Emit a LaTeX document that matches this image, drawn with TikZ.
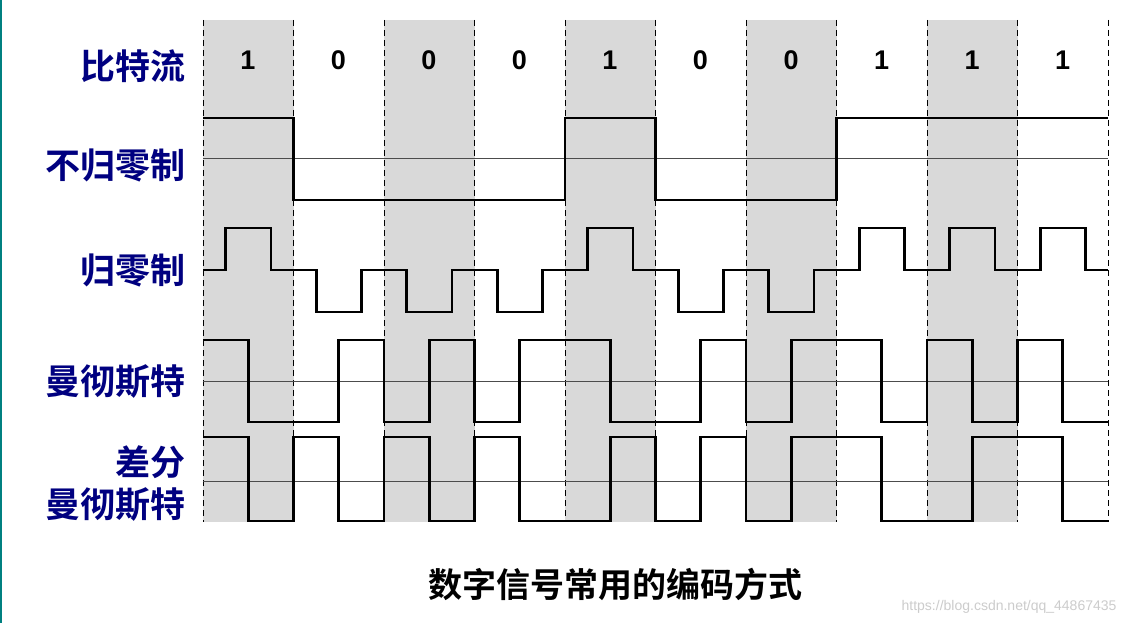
\documentclass[tikz,border=0pt]{standalone}
\usepackage{fontspec}
\setmainfont{Liberation Sans}
\newfontfamily\cjk{Noto Sans CJK SC Bold}
\begin{document}
\begin{tikzpicture}[x=1pt,y=-1pt,
  lbl/.style={anchor=east,font=\cjk\fontsize{35}{42}\selectfont,text=blue!50!black,align=right},
  bit/.style={font=\bfseries\fontsize{27}{30}\selectfont},
  wave/.style={line width=2.8pt,line join=miter},
  mid/.style={line width=0.7pt,gray!60!black},
  sep/.style={dash pattern=on 6pt off 4pt,line width=1pt}]
\useasboundingbox (0,0) rectangle (1122,623);
\fill[white] (0,0) rectangle (1122,623);
\draw[teal,line width=1.5pt] (0.75,0) -- (0.75,623);
% shaded bits
\foreach \i in {0,2,4,6,8}
  \fill[gray!30] ({203+90.5*\i},20) rectangle ({293.5+90.5*\i},522);
\foreach \i in {0,...,10}
  \draw[sep] ({203+90.5*\i},20) -- ({203+90.5*\i},522);
% bit labels
\foreach \i/\v in {0/1,1/0,2/0,3/0,4/1,5/0,6/0,7/1,8/1,9/1}
  \node[bit] (b\i) at ({248+90.5*\i},60) {\v};
% row labels
\node[lbl] (l1) at (189,66) {比特流};
\node[lbl] (l2) at (189,165) {不归零制};
\node[lbl] (l3) at (189,270) {归零制};
\node[lbl] (l4) at (189,382) {曼彻斯特};
\node[lbl] (l5) at (189,484) {差分\\曼彻斯特};
% mid lines
\foreach \y in {158,381,481} \draw[mid] (203,\y) -- (1108,\y);
% NRZ
\draw[wave] (203,118) -- (293.5,118) -- (293.5,200) -- (565,200) -- (565,118) -- (655.5,118)
  -- (655.5,200) -- (836.5,200) -- (836.5,118) -- (1108,118);
% RZ
\draw[wave] (203,270) \foreach \i/\l in {0/228,1/312,2/312,3/312,4/228,5/312,6/312,7/228,8/228,9/228}
  { -- ({225.6+90.5*\i},270) -- ({225.6+90.5*\i},\l) -- ({270.9+90.5*\i},\l) -- ({270.9+90.5*\i},270) } -- (1108,270);
% Manchester
\draw[wave] (203,340) \foreach \i/\a/\c in {0/340/422,1/422/340,2/422/340,3/422/340,4/340/422,5/422/340,6/422/340,7/340/422,8/340/422,9/340/422}
  { -- ({203+90.5*\i},\a) -- ({248.25+90.5*\i},\a) -- ({248.25+90.5*\i},\c) -- ({293.5+90.5*\i},\c) };
% Differential Manchester
\draw[wave] (203,437) \foreach \i/\a/\c in {0/437/521,1/437/521,2/437/521,3/437/521,4/521/437,5/521/437,6/521/437,7/437/521,8/521/437,9/437/521}
  { -- ({203+90.5*\i},\a) -- ({248.25+90.5*\i},\a) -- ({248.25+90.5*\i},\c) -- ({293.5+90.5*\i},\c) };
% title
\node[font=\cjk\fontsize{34}{38}\selectfont] (title) at (615,584) {数字信号常用的编码方式};
\node[anchor=east,text=gray!40,font=\fontsize{14}{16}\selectfont] (wm) at (1120,607) {https://blog.csdn.net/qq\_44867435};
\end{tikzpicture}
\end{document}
